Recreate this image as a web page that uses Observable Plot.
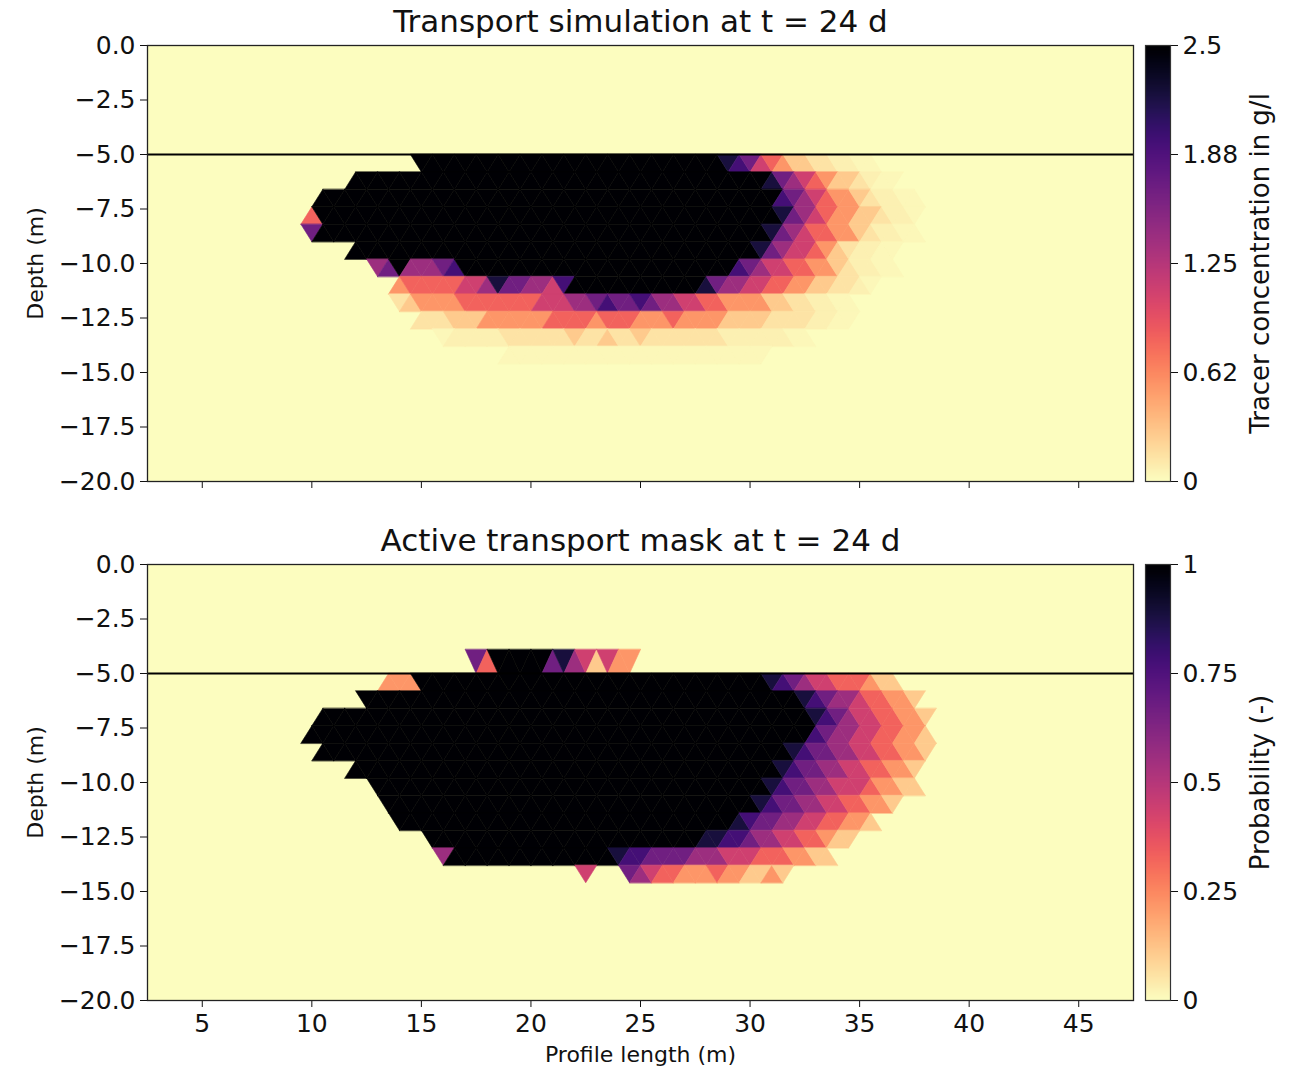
<!DOCTYPE html>
<html><head><meta charset="utf-8">
<script src="https://cdn.jsdelivr.net/npm/d3@7"></script>
<script src="https://cdn.jsdelivr.net/npm/@observablehq/plot@0.6"></script>
<style>
body{margin:0;background:#fff;}
#root{position:relative;width:1299px;height:1067px;overflow:hidden;font-family:"DejaVu Sans",sans-serif;}
#root svg{position:absolute;}
</style></head><body><div id="root"></div>
<script>
// ---------------- data ----------------
const X_DOMAIN = [2.5, 47.5];
const Y_DOMAIN = [-20, 0];
const X_TICKS = [5, 10, 15, 20, 25, 30, 35, 40, 45];
const Y_TICKS = [0, -2.5, -5, -7.5, -10, -12.5, -15, -17.5, -20];
const LAYER_DEPTH = [-5];

const TITLE_TOP = "Transport simulation at t = 24 d";
const TITLE_BOTTOM = "Active transport mask at t = 24 d";
const Y_LABEL = "Depth (m)";
const X_LABEL = "Profile length (m)";
const CB_TOP_LABEL = "Tracer concentration in g/l";
const CB_BOTTOM_LABEL = "Probability (-)";
const CB_TOP_TICKS = [0, 0.625, 1.25, 1.875, 2.5];
const CB_TOP_TICK_LABELS = ["0", "0.62", "1.25", "1.88", "2.5"];
const CB_BOTTOM_TICKS = [0, 0.25, 0.5, 0.75, 1];
const CB_BOTTOM_TICK_LABELS = ["0", "0.25", "0.5", "0.75", "1"];
const CONC_MAX = 2.5;
const PROB_MAX = 1;

// mesh: rows of nodes (depth), node spacing along profile, alternate rows shifted by half a cell
const MESH_X0 = 8;
const MESH_DX = 1;
const MESH_NODES = 33;
const MESH_ROW_Y = [-3.9, -5.0, -5.8, -6.6, -7.4, -8.2, -9.0, -9.8, -10.6, -11.4, -12.2, -13.0, -13.8, -14.6, -15.4];

// cell value codes (fraction of the colour range)
const LEVEL_CODES = ".abc123456789";
const LEVEL_VALUES = [0, 0.012, 0.03, 0.055, 0.11, 0.22, 0.33, 0.44, 0.56, 0.67, 0.78, 0.89, 1.0];

// one string per row strip, two triangles per metre starting at x = 8.5
const CONC_STRIPS = [
  "",
  ".. .. .. .. .. .. .9 99 99 99 99 99 99 99 99 99 99 99 99 99 98 76 43 21 1c cb ba a.",
  ".. .. .. .9 99 99 99 99 99 99 99 99 99 99 99 99 99 99 99 99 99 99 98 65 43 21 1c ba a.",
  ".. .. 99 99 99 99 99 99 99 99 99 99 99 99 99 99 99 99 99 99 99 99 99 76 54 32 21 cb ba a.",
  ".. .3 99 99 99 99 99 99 99 99 99 99 99 99 99 99 99 99 99 99 99 99 99 86 54 32 21 1c bb a.",
  ".. .6 99 99 99 99 99 99 99 99 99 99 99 99 99 99 99 99 99 99 99 99 98 65 43 32 21 cb ba a.",
  ".. .. .. .9 99 99 99 99 99 99 99 99 99 99 99 99 99 99 99 99 99 99 86 54 43 21 cb ba a.",
  ".. .. .. .. .5 69 55 56 79 99 99 99 99 99 99 99 99 99 99 99 99 76 54 43 32 21 cb ba a.",
  ".. .. .. .. .. .2 33 33 34 45 86 65 54 79 99 99 99 99 99 98 65 54 43 32 21 1c cb a.",
  ".. .. .. .. .. .c 12 22 23 33 33 33 44 45 56 76 67 65 54 43 32 22 21 1c cb ba a.",
  ".. .. .. .. .. .. .c cc 11 12 22 22 23 33 32 33 32 22 32 22 21 11 1c cc cb ba a.",
  ".. .. .. .. .. .. .. .a bb bb bc cc cc c1 cc 1c c1 cc cc cc cb bb bb ba a.",
  ".. .. .. .. .. .. .. .. .. .. .a aa aa aa aa aa aa aa aa aa aa aa a.",
  ""
];

const PROB_STRIPS = [
  ".. .. .. .. .. .. .. .. .. 63 99 99 96 85 41 42 2.",
  ".. .. .. .. .. 22 29 99 99 99 99 99 99 99 99 99 99 99 99 99 99 99 98 76 54 43 33 21 1.",
  ".. .. .. .. 99 99 99 99 99 99 99 99 99 99 99 99 99 99 99 99 99 99 99 99 87 65 54 33 22 1.",
  ".. .. 99 99 99 99 99 99 99 99 99 99 99 99 99 99 99 99 99 99 99 99 99 99 98 76 54 43 32 21",
  ".. .9 99 99 99 99 99 99 99 99 99 99 99 99 99 99 99 99 99 99 99 99 99 99 97 65 54 43 32 21",
  ".. .. 99 99 99 99 99 99 99 99 99 99 99 99 99 99 99 99 99 99 99 99 99 98 76 65 54 43 32 21",
  ".. .. .. .9 99 99 99 99 99 99 99 99 99 99 99 99 99 99 99 99 99 99 99 87 66 55 44 33 22 1.",
  ".. .. .. .. .9 99 99 99 99 99 99 99 99 99 99 99 99 99 99 99 99 99 98 76 65 54 44 32 21 1.",
  ".. .. .. .. .. 99 99 99 99 99 99 99 99 99 99 99 99 99 99 99 99 99 87 66 55 44 33 22 1.",
  ".. .. .. .. .. .9 99 99 99 99 99 99 99 99 99 99 99 99 99 99 99 87 66 55 44 33 22 1.",
  ".. .. .. .. .. .. .. 99 99 99 99 99 99 99 99 99 99 99 99 98 87 76 55 44 33 21 1.",
  ".. .. .. .. .. .. .. .5 99 99 99 99 99 99 99 98 77 66 66 55 54 44 33 32 21 1.",
  ".. .. .. .. .. .. .. .. .. .. .. .. .. .. 4. .. 65 43 32 22 32 21 12 1.",
  ""
];

// ---------------- build triangles ----------------
function buildTriangles(strips, vmax) {
  const out = [];
  const nTri = 2 * MESH_NODES - 2;
  strips.forEach((s, r) => {
    const codes = s.replace(/ /g, "").padEnd(nTri, ".");
    const yTop = MESH_ROW_Y[r], yBot = MESH_ROW_Y[r + 1];
    const offTop = (r % 2) * 0.5, offBot = ((r + 1) % 2) * 0.5;
    const nodes = [];
    for (let i = 0; i < MESH_NODES; i++) {
      nodes.push({x: MESH_X0 + (i + offTop) * MESH_DX, y: yTop});
      nodes.push({x: MESH_X0 + (i + offBot) * MESH_DX, y: yBot});
    }
    nodes.sort((a, b) => a.x - b.x);
    for (let k = 0; k < nTri; k++) {
      const v = LEVEL_VALUES[LEVEL_CODES.indexOf(codes[k])] * vmax;
      if (!(v > 0)) continue;
      const id = r + "-" + k;
      for (const n of nodes.slice(k, k + 3)) out.push({id, x: n.x, y: n.y, v});
    }
  });
  return out;
}

const root = document.getElementById("root");
const FONT = "DejaVu Sans";

function panel({strips, vmax, title, showX, top}) {
  const tris = buildTriangles(strips, vmax);
  const height = showX ? 548 : 500;
  const marks = [
    Plot.rect([0], {x1: X_DOMAIN[0], x2: X_DOMAIN[1], y1: Y_DOMAIN[0], y2: Y_DOMAIN[1], fill: d => d}),
    Plot.line(tris, {x: "x", y: "y", z: "id", fill: "v", stroke: "v", strokeWidth: 0.6, curve: "linear-closed"}),
    Plot.ruleY(LAYER_DEPTH, {stroke: "black", strokeWidth: 2}),
    Plot.frame({stroke: "#222", strokeWidth: 1.3}),
    Plot.text([title], {text: d => d, frameAnchor: "top", dy: -23, fontSize: 31, lineAnchor: "middle"}),
    Plot.text([Y_LABEL], {text: d => d, frameAnchor: "left", dx: -112, rotate: -90, fontSize: 22, lineAnchor: "middle", textAnchor: "middle"})
  ];
  if (showX) marks.push(Plot.text([X_LABEL], {text: d => d, frameAnchor: "bottom", dy: 54, fontSize: 22, lineAnchor: "middle"}));
  const svg = Plot.plot({
    width: 1140, height,
    marginLeft: 147, marginRight: 7, marginTop: 45, marginBottom: height - 45 - 436,
    style: {fontFamily: FONT, fontSize: "25px", color: "#111", background: "transparent", overflow: "visible"},
    x: {domain: X_DOMAIN, ticks: X_TICKS, tickSize: 7, tickPadding: 7, tickFormat: showX ? (d => String(d)) : (() => ""), label: null},
    y: {domain: Y_DOMAIN, ticks: Y_TICKS, tickSize: 7, tickPadding: 5, tickFormat: d3.format(".1f"), label: null},
    color: {type: "linear", scheme: "magma", reverse: true, domain: [0, vmax]},
    marks
  });
  svg.style.left = "0px";
  svg.style.top = top + "px";
  root.appendChild(svg);
}

function colorbar({vmax, ticks, labels, label, top}) {
  const svg = Plot.plot({
    width: 169, height: 500,
    marginLeft: 15, marginRight: 129, marginTop: 45, marginBottom: 19,
    style: {fontFamily: FONT, fontSize: "25px", color: "#111", background: "transparent", overflow: "visible"},
    x: {domain: [0, 1], axis: null},
    y: {domain: [0, vmax], axis: "right", ticks, tickSize: 7, tickPadding: 5, tickFormat: d => labels[ticks.indexOf(d)], label: null},
    color: {type: "linear", scheme: "magma", reverse: true, domain: [0, vmax]},
    marks: [
      Plot.raster({x1: 0, x2: 1, y1: 0, y2: vmax, width: 1, height: 256, fill: (x, y) => y, imageRendering: "auto"}),
      Plot.frame({stroke: "#333", strokeWidth: 1.2}),
      Plot.text([label], {text: d => d, frameAnchor: "right", dx: 90, rotate: -90, fontSize: 26, lineAnchor: "middle", textAnchor: "middle"})
    ]
  });
  svg.style.left = "1130px";
  svg.style.top = top + "px";
  root.appendChild(svg);
}

panel({strips: CONC_STRIPS, vmax: CONC_MAX, title: TITLE_TOP, showX: false, top: 0});
panel({strips: PROB_STRIPS, vmax: PROB_MAX, title: TITLE_BOTTOM, showX: true, top: 519});
colorbar({vmax: CONC_MAX, ticks: CB_TOP_TICKS, labels: CB_TOP_TICK_LABELS, label: CB_TOP_LABEL, top: 0});
colorbar({vmax: PROB_MAX, ticks: CB_BOTTOM_TICKS, labels: CB_BOTTOM_TICK_LABELS, label: CB_BOTTOM_LABEL, top: 519});
</script>
</body></html>
